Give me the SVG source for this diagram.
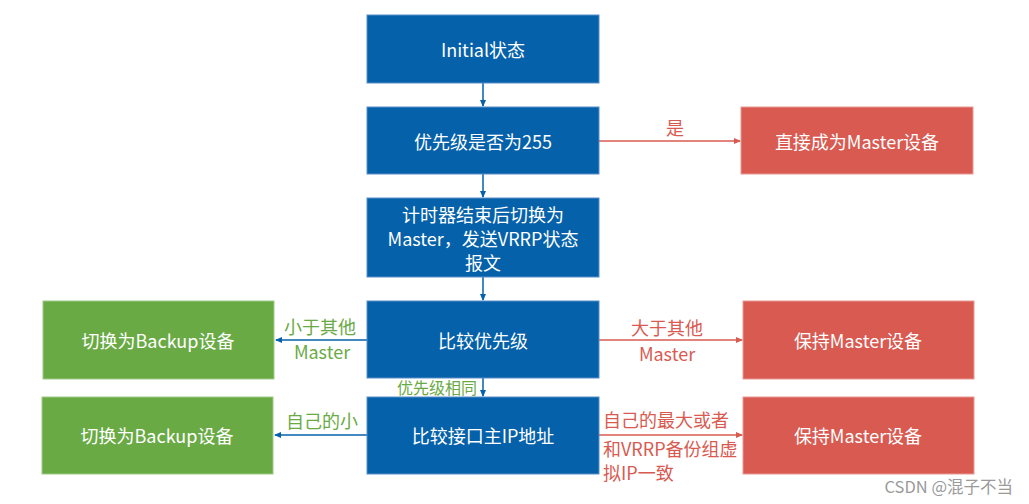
<svg xmlns="http://www.w3.org/2000/svg" width="1029" height="504" viewBox="0 0 1029 504">
<style>
.blue{fill:#0561a9;stroke:#5b8fc9;stroke-width:1}
.red{fill:#d85a51;stroke:#e89a94;stroke-width:1}
.green{fill:#6aaa45;stroke:#9ccb83;stroke-width:1}
.t{font-family:"Noto Sans CJK SC","Noto Sans",sans-serif;font-size:18px;fill:#ffffff;text-anchor:middle;dominant-baseline:central}
.lg{font-family:"Noto Sans CJK SC","Noto Sans",sans-serif;font-size:18px;fill:#6aaa45;dominant-baseline:central}
.lr{font-family:"Noto Sans CJK SC","Noto Sans",sans-serif;font-size:18px;fill:#d85a51;dominant-baseline:central}
.cb{stroke:#0561a9;stroke-width:1.5;fill:none}
.cr{stroke:#d85a51;stroke-width:1.5;fill:none}
</style>
<defs>
<marker id="ab" markerWidth="8" markerHeight="8" refX="6" refY="4" orient="auto" markerUnits="userSpaceOnUse"><path d="M0,1 L7,4 L0,7 z" fill="#0561a9"/></marker>
<marker id="ar" markerWidth="8" markerHeight="8" refX="6" refY="4" orient="auto" markerUnits="userSpaceOnUse"><path d="M0,1 L7,4 L0,7 z" fill="#d85a51"/></marker>
</defs>
<rect width="1029" height="504" fill="#ffffff"/>
<g id="connectors">
<line class="cb" x1="483" y1="83" x2="483" y2="106" marker-end="url(#ab)"/>
<line class="cb" x1="483" y1="174" x2="483" y2="197" marker-end="url(#ab)"/>
<line class="cb" x1="483" y1="277" x2="483" y2="300" marker-end="url(#ab)"/>
<line class="cb" x1="483" y1="378" x2="483" y2="396" marker-end="url(#ab)"/>
<line class="cr" x1="599" y1="141" x2="740" y2="141" marker-end="url(#ar)"/>
<line class="cb" x1="367" y1="340" x2="276" y2="340" marker-end="url(#ab)"/>
<line class="cr" x1="599" y1="340" x2="742" y2="340" marker-end="url(#ar)"/>
<line class="cb" x1="367" y1="435" x2="275" y2="435" marker-end="url(#ab)"/>
<line class="cr" x1="599" y1="435" x2="742" y2="435" marker-end="url(#ar)"/>
<text class="lr" x="675" y="127" text-anchor="middle">是</text>
<text class="lg" x="320" y="326" text-anchor="middle">小于其他</text>
<text class="lg" x="322" y="351" text-anchor="middle">Master</text>
<text class="lr" x="667" y="327" text-anchor="middle">大于其他</text>
<text class="lr" x="667" y="353" text-anchor="middle">Master</text>
<text class="lg" x="437" y="387" text-anchor="middle" style="font-size:16px">优先级相同</text>
<text class="lg" x="322" y="420" text-anchor="middle">自己的小</text>
<text class="lr" x="603" y="419">自己的最大或者</text>
<text class="lr" x="603" y="448">和VRRP备份组虚</text>
<text class="lr" x="603" y="472">拟IP一致</text>
</g>
<g id="n1"><rect class="blue" x="367" y="15" width="232" height="68"/><text class="t" x="483" y="49">Initial状态</text></g>
<g id="n2"><rect class="blue" x="367" y="107" width="232" height="67"/><text class="t" x="483" y="141">优先级是否为255</text></g>
<g id="n3"><rect class="blue" x="367" y="198" width="232" height="79"/><text class="t" x="483" y="214">计时器结束后切换为</text><text class="t" x="483" y="238">Master，发送VRRP状态</text><text class="t" x="483" y="262">报文</text></g>
<g id="n4"><rect class="blue" x="367" y="301" width="232" height="77"/><text class="t" x="483" y="340">比较优先级</text></g>
<g id="n5"><rect class="blue" x="367" y="397" width="232" height="77"/><text class="t" x="483" y="435">比较接口主IP地址</text></g>
<g id="r1"><rect class="red" x="741" y="107" width="232" height="67"/><text class="t" x="857" y="141">直接成为Master设备</text></g>
<g id="r2"><rect class="red" x="743" y="301" width="231" height="78"/><text class="t" x="858" y="340">保持Master设备</text></g>
<g id="r3"><rect class="red" x="743" y="397" width="231" height="77"/><text class="t" x="858" y="435">保持Master设备</text></g>
<g id="g1"><rect class="green" x="43" y="301" width="231" height="78"/><text class="t" x="158" y="340">切换为Backup设备</text></g>
<g id="g2"><rect class="green" x="42" y="397" width="231" height="77"/><text class="t" x="157" y="435">切换为Backup设备</text></g>
<text x="1013" y="486" text-anchor="end" style="font-family:'Noto Sans CJK SC','Noto Sans',sans-serif;font-size:16.5px;fill:#9a9a9a" dominant-baseline="central">CSDN @混子不当</text>
</svg>
